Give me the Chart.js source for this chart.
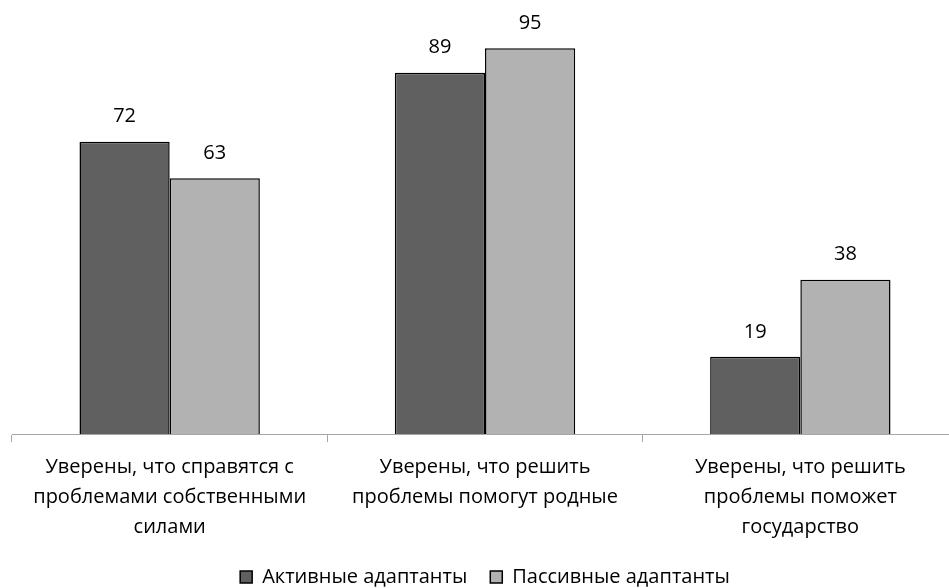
<!DOCTYPE html>
<html>
<head>
<meta charset="utf-8">
<script src="https://cdn.jsdelivr.net/npm/chart.js@4/dist/chart.umd.min.js"></script>
<style>
  html, body { margin: 0; padding: 0; background: #fff; overflow: hidden; }
  #wrap { width: 970px; height: 588px; }
</style>
</head>
<body>
<div id="wrap"><canvas id="chart"></canvas></div>
<script>
// Data
const categories = [
    ['Уверены, что справятся с', 'проблемами собственными', 'силами'],
    ['Уверены, что решить', 'проблемы помогут родные'],
    ['Уверены, что решить', 'проблемы поможет', 'государство']
];
const seriesNames = ['Активные адаптанты', 'Пассивные адаптанты'];
const activeValues = [72, 89, 19];
const passiveValues = [63, 95, 38];

const fontFamily = "'Open Sans', 'Liberation Sans', sans-serif";

// Value labels above each bar (no datalabels plugin offline)
const barLabels = {
    id: 'barLabels',
    afterDatasetsDraw(chart) {
        const c = chart.ctx;
        c.save();
        c.font = '20px ' + fontFamily;
        c.fillStyle = '#000';
        c.textAlign = 'center';
        c.textBaseline = 'middle';
        chart.data.datasets.forEach((ds, i) => {
            chart.getDatasetMeta(i).data.forEach((bar, j) => {
                c.fillText(ds.data[j], bar.x, bar.y - 25);
            });
        });
        c.restore();
    }
};

const ctx = document.getElementById('chart').getContext('2d');
new Chart(ctx, {
    type: 'bar',
    data: {
        labels: categories,
        datasets: [{
            label: seriesNames[0],
            data: activeValues,
            backgroundColor: '#606060',
            borderColor: '#000',
            borderWidth: 1.5
        }, {
            label: seriesNames[1],
            data: passiveValues,
            backgroundColor: '#b2b2b2',
            borderColor: '#000',
            borderWidth: 1.5
        }]
    },
    options: {
        responsive: true,
        maintainAspectRatio: false,
        animation: false,
        layout: {
            padding: { top: 28, left: 12, right: 12, bottom: -9 }
        },
        datasets: {
            bar: { categoryPercentage: 0.572, barPercentage: 1.0 }
        },
        scales: {
            x: {
                grid: {
                    display: true,
                    drawOnChartArea: false,
                    offset: true,
                    tickLength: 8,
                    color: '#a6a6a6'
                },
                border: { display: true, color: '#a6a6a6', width: 1 },
                ticks: {
                    color: '#000',
                    padding: 10,
                    maxRotation: 0,
                    autoSkip: false,
                    font: { family: fontFamily, size: 20, lineHeight: '30px' }
                },
                afterFit(scale) { scale.height = 110; }
            },
            y: {
                display: false,
                min: 0,
                max: 100
            }
        },
        plugins: {
            legend: {
                position: 'bottom',
                labels: {
                    boxWidth: 12,
                    boxHeight: 12,
                    padding: 23,
                    color: '#000',
                    font: { family: fontFamily, size: 20 }
                }
            },
            tooltip: { enabled: false }
        }
    },
    plugins: [barLabels]
});
</script>
</body>
</html>
